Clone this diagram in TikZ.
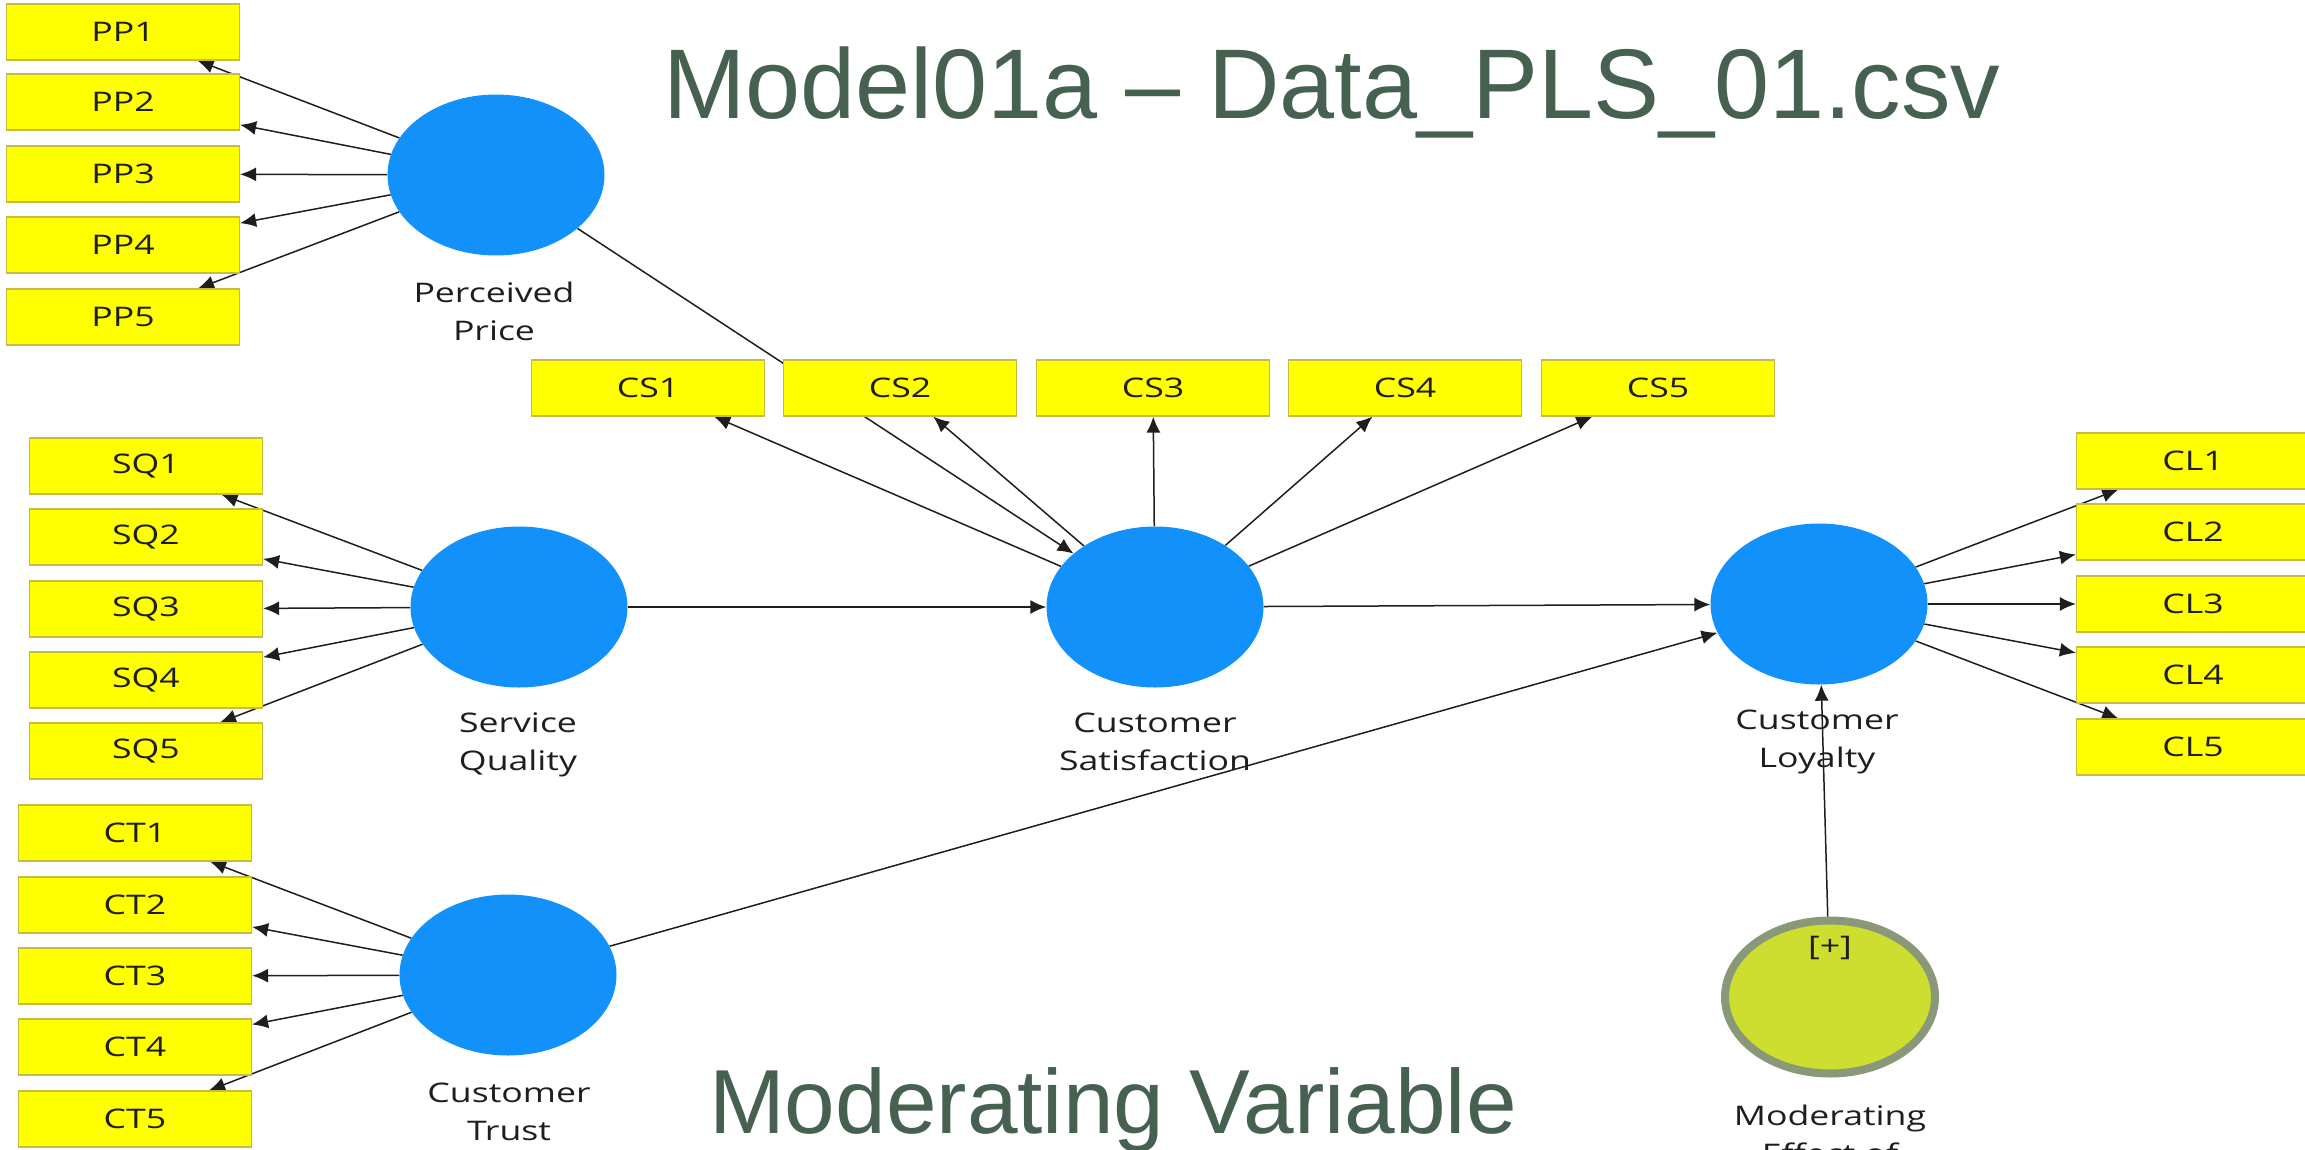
\documentclass[tikz,border=0pt]{standalone}
\usepackage{fontspec}
\setmainfont{Liberation Sans}
\newfontfamily\plsfont[FakeStretch=1.32]{Open Sans}
\usetikzlibrary{shapes.geometric,arrows.meta}

\definecolor{latblue}{RGB}{18,145,250}
\definecolor{boxfill}{RGB}{255,255,0}
\definecolor{boxedge}{RGB}{196,188,70}
\definecolor{modfill}{RGB}{205,222,48}
\definecolor{modedge}{RGB}{138,152,122}
\definecolor{titlec}{RGB}{70,97,80}
\definecolor{linec}{RGB}{30,30,30}
\definecolor{txtc}{RGB}{30,30,30}

\pgfdeclarelayer{bgfill}
\pgfdeclarelayer{edges}
\pgfsetlayers{bgfill,edges,main}

\tikzset{
  ind/.style={rectangle, draw=boxedge, line width=1.2pt, fill=boxfill,
    minimum width=233pt, minimum height=56pt, inner sep=0pt,
    font=\plsfont\fontsize{27}{30}\selectfont, text=txtc},
  lat/.style={ellipse, fill=latblue, minimum width=217pt, minimum height=161pt, inner sep=0pt},
  modlat/.style={ellipse, fill=modfill, draw=modedge, line width=8pt,
    minimum width=210pt, minimum height=153pt, inner sep=0pt},
  lbl/.style={align=center, inner sep=0pt, text=txtc,
    font=\plsfont\fontsize{27}{38}\selectfont},
  conn/.style={draw=linec, line width=1.5pt, -{Latex[length=16pt,width=14pt]}},
  bigtext/.style={text=titlec, inner sep=0pt, anchor=base},
}

\begin{document}
\begin{tikzpicture}[x=1pt,y=-1pt]
\useasboundingbox (0,0) rectangle (2305,1149);
\clip (0,0) rectangle (2305,1149);
\begin{pgfonlayer}{bgfill}
  \fill[white] (0,0) rectangle (2305,1149);
\end{pgfonlayer}

% headings
\node[bigtext, font=\fontsize{99}{110}\selectfont] (title) at (1332,118) {Model01a – Data\_PLS\_01.csv};
\node[bigtext, font=\fontsize{91}{100}\selectfont] (modvar) at (1113,1133) {Moderating Variable};

% latent variables
\node[lat] (pp) at (496,175) {};
\node[lat] (sq) at (519,607) {};
\node[lat] (ct) at (508,975) {};
\node[lat] (cs) at (1155,607) {};
\node[lat] (cl) at (1819,604) {};
\node[modlat] (mod) at (1830,997) {};
\node[lbl] (modplus) at (1830,948) {[+]};

% latent labels
\node[lbl] (ppL) at (494,311) {Perceived\\Price};
\node[lbl] (sqL) at (518,745) {Service\\Quality};
\node[lbl] (ctL) at (509,1112) {Customer\\Trust};
\node[lbl] (csL) at (1155,742) {Customer\\Satisfaction};
\node[lbl] (clL) at (1817,742) {Customer\\Loyalty};
\node[lbl] (modL) at (1830,1134) {Moderating\\Effect of};

% indicators
\foreach \i/\y in {1/32,2/102,3/174,4/245,5/317}
  \node[ind] (pp\i) at (123,\y) {PP\i};
\foreach \i/\y in {1/466,2/537,3/609,4/680,5/751}
  \node[ind] (sq\i) at (146,\y) {SQ\i};
\foreach \i/\y in {1/833,2/905,3/976,4/1047,5/1119}
  \node[ind] (ct\i) at (135,\y) {CT\i};
\foreach \i/\x in {1/648,2/900,3/1153,4/1405,5/1658}
  \node[ind] (cs\i) at (\x,388) {CS\i};
\foreach \i/\y in {1/461,2/532,3/604,4/675,5/747}
  \node[ind] (cl\i) at (2193,\y) {CL\i};

% connectors
\begin{pgfonlayer}{edges}
  \foreach \i in {1,...,5} {
    \draw[conn] (pp) -- (pp\i);
    \draw[conn] (sq) -- (sq\i);
    \draw[conn] (ct) -- (ct\i);
    \draw[conn] (cs) -- (cs\i);
    \draw[conn] (cl) -- (cl\i);
  }
  \draw[conn] (pp) -- (cs);
  \draw[conn] (sq) -- (cs);
  \draw[conn] (cs) -- (cl);
  \draw[conn] (ct) -- (cl);
  \draw[conn] (mod) -- (cl);
\end{pgfonlayer}
\end{tikzpicture}
\end{document}
